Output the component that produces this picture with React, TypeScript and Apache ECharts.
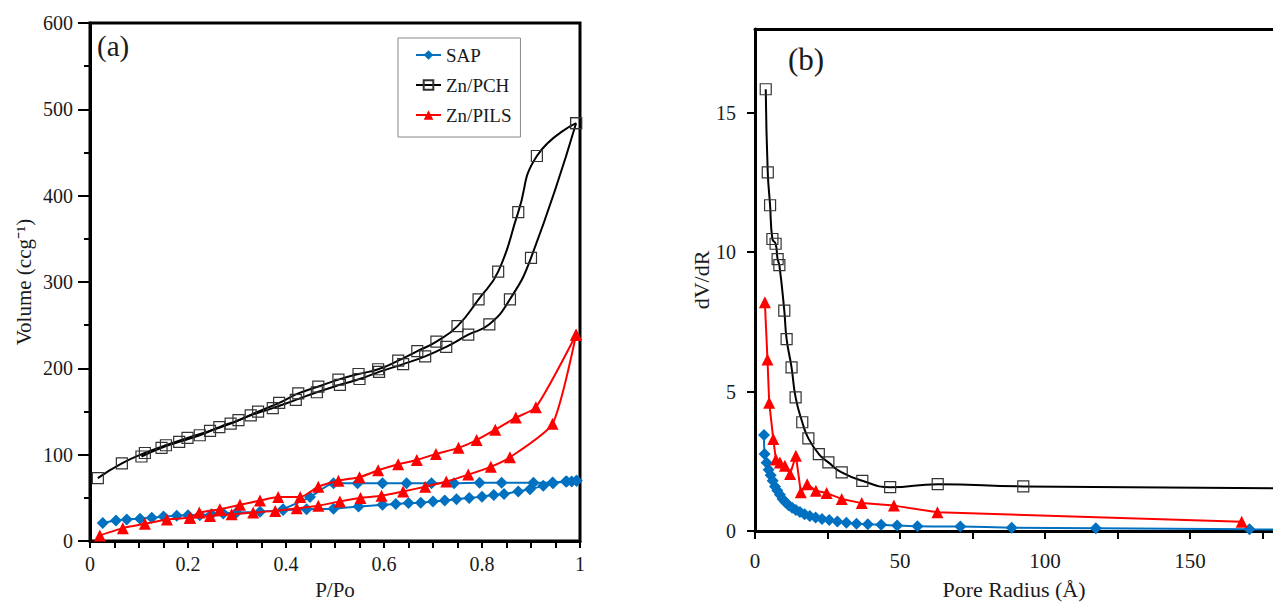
import React, { useEffect, useRef } from "react";
import * as echarts from "echarts";

// ---------- (a) isotherms: [P/Po, Volume] ----------
const sapAds = [
  [0.026, 21], [0.053, 23.8], [0.075, 25], [0.102, 26], [0.126, 27], [0.15, 28.5], [0.177, 29.5],
  [0.2, 30], [0.224, 30], [0.248, 31], [0.272, 32], [0.299, 33], [0.347, 34], [0.394, 36],
  [0.442, 37], [0.497, 37.5], [0.548, 40], [0.597, 42], [0.624, 43], [0.65, 44], [0.675, 44.5],
  [0.7, 46], [0.724, 47], [0.748, 48.5], [0.774, 50], [0.8, 51.5], [0.824, 53.5], [0.845, 54.5],
  [0.874, 57.5], [0.898, 60], [0.925, 64], [0.945, 67], [0.973, 69], [0.993, 70],
];
const sapDes = [
  [0.993, 70], [0.983, 69], [0.971, 69], [0.944, 68], [0.905, 67.5], [0.84, 67.5], [0.795, 67.5],
  [0.743, 67], [0.697, 67], [0.646, 67], [0.597, 67], [0.546, 67], [0.497, 67], [0.449, 51],
  [0.394, 37],
];
const pchAds = [
  [0.016, 73], [0.065, 90], [0.112, 102], [0.155, 111], [0.199, 119.5], [0.245, 127.6],
  [0.287, 136], [0.328, 145.6], [0.373, 154], [0.42, 163.6], [0.463, 172.4], [0.51, 181],
  [0.55, 187.7], [0.59, 196], [0.639, 205], [0.684, 214], [0.727, 225], [0.772, 239],
  [0.815, 251], [0.857, 280], [0.9, 328], [0.992, 484],
];
const pchDes = [
  [0.992, 484], [0.912, 446], [0.874, 381], [0.833, 312], [0.793, 280], [0.75, 249],
  [0.707, 231], [0.668, 220], [0.629, 209], [0.588, 199], [0.548, 193.5], [0.507, 187],
  [0.466, 179], [0.425, 171], [0.386, 160], [0.343, 150], [0.303, 140], [0.264, 132],
  [0.224, 122.6], [0.182, 115], [0.146, 108], [0.105, 98],
];
const pilsAds = [
  [0.02, 6.5], [0.067, 15], [0.112, 20], [0.157, 25], [0.204, 27], [0.245, 29], [0.289, 31],
  [0.333, 33], [0.378, 35], [0.422, 38], [0.466, 41], [0.51, 46], [0.552, 50], [0.595, 52.5],
  [0.639, 57.5], [0.684, 63], [0.727, 69], [0.772, 77], [0.818, 86], [0.857, 97], [0.944, 136],
  [0.992, 239],
];
const pilsDes = [
  [0.992, 239], [0.91, 155], [0.869, 143], [0.827, 129], [0.789, 117], [0.752, 108],
  [0.706, 101], [0.667, 94], [0.629, 89], [0.588, 82], [0.55, 74], [0.507, 70], [0.466, 63],
  [0.429, 51], [0.384, 51], [0.347, 47], [0.306, 42], [0.265, 37], [0.223, 33], [0.204, 27],
];

// ---------- (b) pore size distribution: [Pore radius (Å), dV/dR] ----------
const sapPsd = [
  [3.1, 3.44], [3.3, 2.76], [4, 2.45], [4.7, 2.2], [5.4, 2.0], [6.1, 1.8], [6.9, 1.6], [7.7, 1.45],
  [8.6, 1.3], [9.5, 1.15], [10.5, 1.03], [11.6, 0.92], [12.8, 0.83], [14.1, 0.75], [15.5, 0.68],
  [17.1, 0.6], [18.9, 0.54], [20.9, 0.48], [23.1, 0.43], [25.6, 0.39], [28.4, 0.34], [31.5, 0.3],
  [35, 0.26], [38.9, 0.24], [43.5, 0.22], [49, 0.2], [56, 0.17], [70.8, 0.16], [88.5, 0.12],
  [117.5, 0.1], [170.5, 0.06], [200, 0.05],
];
const pchPsd = [
  [3.7, 15.84], [4.4, 12.86], [5.2, 11.68], [6.0, 10.47], [7.1, 10.3], [7.8, 9.75], [8.4, 9.53],
  [10.1, 7.9], [10.9, 6.88], [12.6, 5.87], [14.0, 4.79], [16.3, 3.9], [18.4, 3.32], [22, 2.76],
  [25.3, 2.46], [29.9, 2.1], [37, 1.8], [46.6, 1.57], [63, 1.68], [92.5, 1.6], [200, 1.52],
];
const pilsPsd = [
  [3.4, 8.2], [4.3, 6.15], [4.9, 4.6], [6.3, 3.3], [7.2, 2.56], [8.6, 2.46], [10.3, 2.34],
  [12.1, 2.04], [14.1, 2.7], [15.8, 1.39], [18.0, 1.68], [21, 1.44], [24.7, 1.36], [29.9, 1.15],
  [36.8, 1.0], [47.9, 0.91], [62.9, 0.67], [167.8, 0.33],
];

const seriesNames = ["SAP", "Zn/PCH", "Zn/PILS"];
const FONT = "'Liberation Serif', 'Times New Roman', serif";
const BLUE = "#0070C0";
const RED = "#FF0000";
const INK = "#1a1a1a";

const isMultiple = (v: number, step: number) => Math.abs(v / step - Math.round(v / step)) < 1e-6;

export default function App() {
  const ref = useRef<HTMLDivElement>(null);
  useEffect(() => {
    if (!ref.current) return;
    const chart = echarts.init(ref.current, undefined, { renderer: "svg" });

    const sapStyle = (xi: number, data: number[][], smooth: number) => ({
      name: seriesNames[0], type: "line", xAxisIndex: xi, yAxisIndex: xi, data, smooth,
      symbol: "diamond", symbolSize: 12, z: 3,
      lineStyle: { color: BLUE, width: 2 }, itemStyle: { color: BLUE },
    });
    const pchStyle = (xi: number, data: number[][], smooth: number) => ({
      name: seriesNames[1], type: "line", xAxisIndex: xi, yAxisIndex: xi, data, smooth,
      symbol: "rect", symbolSize: 11, z: 4,
      lineStyle: { color: "#000", width: 2 },
      itemStyle: { color: "rgba(255,255,255,0)", borderColor: "#333", borderWidth: 1.2 },
    });
    const pilsStyle = (xi: number, data: number[][], smooth: number) => ({
      name: seriesNames[2], type: "line", xAxisIndex: xi, yAxisIndex: xi, data, smooth,
      symbol: "triangle", symbolSize: 12, z: 5,
      lineStyle: { color: RED, width: 2 }, itemStyle: { color: RED },
    });

    const axisLine = { show: true, lineStyle: { color: "#000", width: 3 } };
    const labelStyle = { fontFamily: FONT, color: INK };

    chart.setOption({
      animation: false,
      backgroundColor: "#fff",
      textStyle: { fontFamily: FONT },
      grid: [
        {
          left: 90, top: 23, width: 490, height: 522, show: true,
          borderColor: "#000", borderWidth: 3, backgroundColor: "transparent",
        },
        { left: 755, top: 29, right: 0, height: 503 },
      ],
      legend: {
        data: seriesNames,
        orient: "vertical",
        left: 398, top: 38,
        padding: [7, 9, 12, 17],
        itemWidth: 25, itemHeight: 12, itemGap: 10,
        borderColor: "#888", borderWidth: 1,
        textStyle: { fontFamily: FONT, fontSize: 19, lineHeight: 20, color: INK },
      },
      xAxis: [
        {
          type: "value", gridIndex: 0, min: 0, max: 1, interval: 0.05,
          name: "P/Po", nameLocation: "middle", nameGap: 33,
          nameTextStyle: { fontFamily: FONT, fontSize: 21, color: INK },
          axisLine, splitLine: { show: false },
          axisTick: { show: true, length: 7, lineStyle: { color: "#000", width: 2 } },
          axisLabel: {
            ...labelStyle, fontSize: 20, margin: 13,
            formatter: (v: number) => (isMultiple(v, 0.2) ? String(Math.round(v * 10) / 10) : ""),
          },
        },
        {
          type: "value", gridIndex: 1, min: 0, max: 178.6, interval: 25,
          name: "Pore Radius (Å)", nameLocation: "middle", nameGap: 47,
          nameTextStyle: { fontFamily: FONT, fontSize: 22, color: INK },
          axisLine, splitLine: { show: false },
          axisTick: { show: true, length: 8, lineStyle: { color: "#000", width: 2 } },
          axisLabel: {
            ...labelStyle, fontSize: 21, margin: 19, showMaxLabel: false,
            formatter: (v: number) => (isMultiple(v, 50) ? String(Math.round(v)) : ""),
          },
        },
        {
          type: "value", gridIndex: 1, min: 0, max: 178.6, position: "top",
          axisLine, axisTick: { show: false }, axisLabel: { show: false }, splitLine: { show: false },
        },
      ],
      yAxis: [
        {
          type: "value", gridIndex: 0, min: 0, max: 600, interval: 100,
          name: "Volume (ccg⁻¹)", nameLocation: "middle", nameGap: 56,
          nameTextStyle: { fontFamily: FONT, fontSize: 21, color: INK },
          axisLine, splitLine: { show: false },
          axisTick: { show: true, length: 12, lineStyle: { color: "#000", width: 2 } },
          minorTick: { show: true, splitNumber: 2, length: 6, lineStyle: { color: "#000", width: 2 } },
          axisLabel: { ...labelStyle, fontSize: 20, margin: 17 },
        },
        {
          type: "value", gridIndex: 1, min: 0, max: 18, interval: 5,
          name: "dV/dR", nameLocation: "middle", nameGap: 40,
          nameTextStyle: { fontFamily: FONT, fontSize: 22, color: INK },
          axisLine, splitLine: { show: false },
          axisTick: { show: true, length: 8, lineStyle: { color: "#000", width: 2 } },
          axisLabel: { ...labelStyle, fontSize: 20, margin: 19, showMaxLabel: false },
        },
      ],
      graphic: [
        { type: "text", left: 97, top: 31, style: { text: "(a)", font: `29px ${FONT}`, fill: INK } },
        { type: "text", left: 788, top: 44, style: { text: "(b)", font: `31px ${FONT}`, fill: INK } },
      ],
      series: [
        sapStyle(0, sapAds, 0.2),
        sapStyle(0, sapDes, 0.2),
        pchStyle(0, pchAds, 0.5),
        pchStyle(0, pchDes, 0.5),
        pilsStyle(0, pilsAds, 0.2),
        pilsStyle(0, pilsDes, 0.2),
        sapStyle(1, sapPsd, 0.3),
        pchStyle(1, pchPsd, 0.5),
        pilsStyle(1, pilsPsd, 0),
      ],
    });
    return () => chart.dispose();
  }, []);

  return (
    <div
      ref={ref}
      style={{ position: "fixed", left: 0, top: 0, width: 1273, height: 605, background: "#fff" }}
    />
  );
}
